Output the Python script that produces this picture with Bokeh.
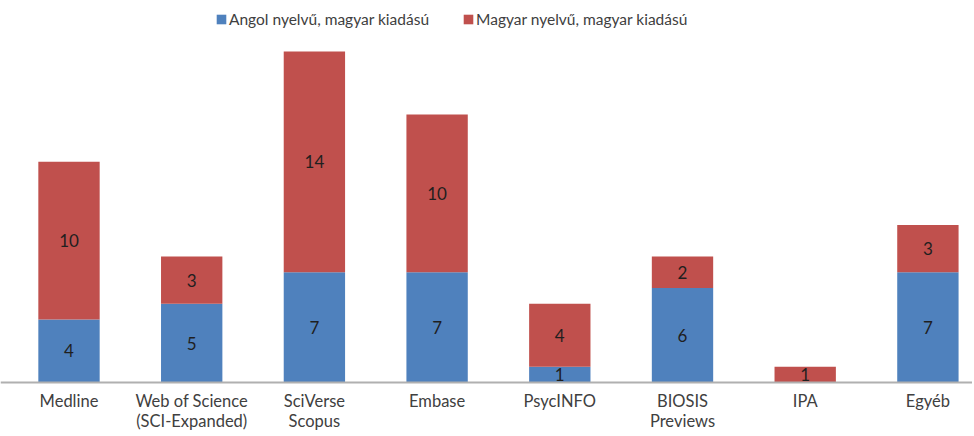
from bokeh.plotting import figure
from bokeh.models import ColumnDataSource, Range1d, Legend, LegendItem, Span
from bokeh.embed import file_html
from bokeh.resources import INLINE
from bokeh.core.properties import value

categories = ["Medline", "Web of Science\n(SCI-Expanded)", "SciVerse\nScopus", "Embase",
              "PsycINFO", "BIOSIS\nPreviews", "IPA", "Egyéb"]
angol = [4, 5, 7, 7, 1, 6, 0, 7]
magyar = [10, 3, 14, 10, 4, 2, 1, 3]
series_names = ["Angol nyelvű, magyar kiadású", "Magyar nyelvű, magyar kiadású"]
colors = ["#4F81BD", "#C0504D"]

FONT = "Lato"
xs = list(range(len(categories)))

W, H = 972, 434
base_px = 382          # baseline position from the top of the figure
px_per_unit = 15.76    # vertical scale
cat_px = 122.7         # category spacing
first_px = 68.5        # centre of first category
x0 = -first_px / cat_px
p = figure(width=W, height=H, output_backend="svg", toolbar_location=None,
           x_range=Range1d(x0, x0 + W / cat_px),
           y_range=Range1d(-(H - base_px) / px_per_unit, base_px / px_per_unit),
           min_border_left=0, min_border_right=0, min_border_top=0, min_border_bottom=0)
p.outline_line_color = None
p.grid.visible = False
p.xaxis.visible = False
p.yaxis.visible = False
p.background_fill_color = "white"
p.border_fill_color = "white"

src = ColumnDataSource(dict(x=xs, a=angol, m=magyar, cat=categories, zero=[0] * len(xs)))
r = p.vbar_stack(["a", "m"], x="x", width=0.5, source=src, color=colors, line_color=None)

# axis line
p.add_layout(Span(location=0, dimension="width", line_color="#b0b0b0", line_width=2))

# category labels
p.text(x="x", y="zero", text="cat", source=src, text_align="center", text_baseline="top",
       y_offset=8, text_font=value(FONT), text_font_size="16.5px", text_color="#404040",
       text_line_height=1.0)

# data labels
lx, ly, lt = [], [], []
for i in xs:
    if angol[i] > 0:
        lx.append(i); ly.append(angol[i] / 2); lt.append(str(angol[i]))
    if magyar[i] > 0:
        lx.append(i); ly.append(angol[i] + magyar[i] / 2); lt.append(str(magyar[i]))
lsrc = ColumnDataSource(dict(x=lx, y=ly, t=lt))
p.text(x="x", y="y", text="t", source=lsrc, text_align="center", text_baseline="middle",
       text_font=value(FONT), text_font_size="17px", text_color="#1f1f1f")

legend = Legend(items=[LegendItem(label=series_names[0], renderers=[r[0]]),
                       LegendItem(label=series_names[1], renderers=[r[1]])],
                orientation="horizontal", location=(215, 406),
                label_text_font=FONT, label_text_font_size="15.5px", label_text_color="#404040",
                glyph_width=12, glyph_height=12, spacing=33, padding=0, margin=0,
                label_standoff=2, border_line_color=None, background_fill_alpha=0)
p.add_layout(legend, "center")

open("out.html", "w").write(file_html(p, INLINE))
